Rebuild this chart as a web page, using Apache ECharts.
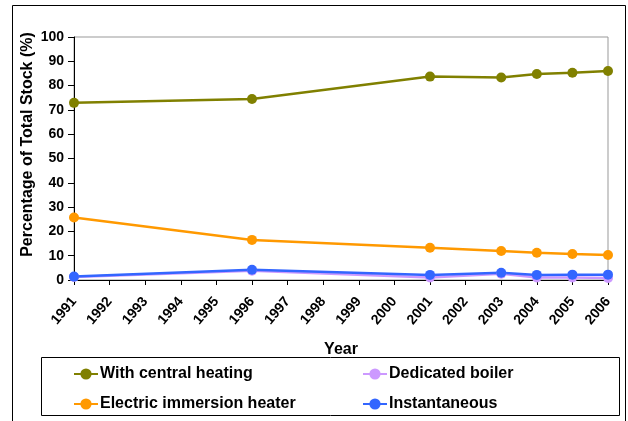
<!DOCTYPE html>
<html>
<head>
<meta charset="utf-8">
<script src="https://cdn.jsdelivr.net/npm/echarts@6/dist/echarts.min.js"></script>
<style>
html,body{margin:0;padding:0;background:#fff;}
#chart{width:628px;height:421px;}
</style>
</head>
<body>
<div id="chart"></div>
<script>
const years = ['1991','1992','1993','1994','1995','1996','1997','1998','1999','2000','2001','2002','2003','2004','2005','2006'];
const centralHeating = [72.9, null, null, null, null, 74.5, null, null, null, null, 83.7, null, 83.3, 84.8, 85.3, 86.0];
const electricImmersion = [25.7, null, null, null, null, 16.5, null, null, null, null, 13.3, null, 11.9, 11.2, 10.7, 10.3];
const dedicatedBoiler = [1.2, null, null, null, null, 3.8, null, null, null, null, 1.0, null, 2.6, 1.0, 1.0, 0.8];
const instantaneous = [1.4, null, null, null, null, 4.2, null, null, null, null, 2.1, null, 3.0, 2.1, 2.2, 2.2];
const yTicks = {min: 0, max: 100, interval: 10};

const chart = echarts.init(document.getElementById('chart'), null, {renderer: 'canvas'});
const font = 'Liberation Sans, Arial, sans-serif';
function mk(name, data, color) {
  return {
    name: name, type: 'line', data: data, connectNulls: true,
    symbol: 'circle', symbolSize: 10,
    lineStyle: {color: color, width: 2.5},
    itemStyle: {color: color},
    emphasis: {disabled: true},
    animation: false
  };
}
const legendText = {fontFamily: font, fontWeight: 'bold', fontSize: 16, color: '#000', padding: [0, 0, 0, -3]};
chart.setOption({
  animation: false,
  grid: {left: 74, right: 20, top: 37, bottom: 141, show: true, borderColor: '#999', borderWidth: 1, backgroundColor: 'transparent'},
  graphic: [
    {type: 'rect', shape: {x: 12.5, y: 5.5, width: 613, height: 430}, style: {fill: 'none', stroke: '#000', lineWidth: 1}, silent: true},
    {type: 'rect', shape: {x: 41.5, y: 357.5, width: 578, height: 58}, style: {fill: 'none', stroke: '#000', lineWidth: 1}, silent: true}
  ],
  xAxis: {
    type: 'category', data: years, boundaryGap: false,
    name: 'Year', nameLocation: 'middle', nameGap: 62, nameMoveOverlap: false,
    nameTextStyle: {fontFamily: font, fontWeight: 'bold', fontSize: 16, color: '#000'},
    axisLine: {lineStyle: {color: '#000', width: 1}},
    axisTick: {show: true, alignWithLabel: true, length: 5, lineStyle: {color: '#000'}},
    axisLabel: {rotate: 50, interval: 0, margin: 19, fontFamily: font, fontWeight: 'bold', fontSize: 14, color: '#000'},
    splitLine: {show: false}
  },
  yAxis: {
    type: 'value', min: yTicks.min, max: yTicks.max, interval: yTicks.interval,
    name: 'Percentage of Total Stock (%)', nameLocation: 'middle', nameGap: 38, nameMoveOverlap: false,
    nameTextStyle: {fontFamily: font, fontWeight: 'bold', fontSize: 16, color: '#000', padding: [0, 0, 0, 28]},
    axisLine: {show: true, lineStyle: {color: '#000', width: 1}},
    axisTick: {show: true, length: 6, lineStyle: {color: '#000'}},
    axisLabel: {margin: 10, fontFamily: font, fontWeight: 'bold', fontSize: 14, color: '#000'},
    splitLine: {show: false}
  },
  legend: [
    {left: 73, top: 366, padding: 0, orient: 'vertical', itemWidth: 24, itemHeight: 14, itemGap: 14,
     data: ['With central heating', 'Electric immersion heater'],
     textStyle: legendText, selectedMode: false},
    {left: 362, top: 366, padding: 0, orient: 'vertical', itemWidth: 24, itemHeight: 14, itemGap: 14,
     data: ['Dedicated boiler', 'Instantaneous'],
     textStyle: legendText, selectedMode: false}
  ],
  series: [
    mk('With central heating', centralHeating, '#808000'),
    mk('Electric immersion heater', electricImmersion, '#FF9900'),
    mk('Dedicated boiler', dedicatedBoiler, '#CC99FF'),
    mk('Instantaneous', instantaneous, '#3366FF')
  ]
});
</script>
</body>
</html>
